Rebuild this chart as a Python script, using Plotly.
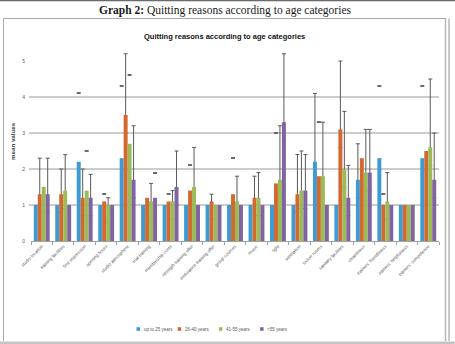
import plotly.graph_objects as go

# ---------------- data ----------------
categories = [
    "studio location", "training facilities", "first impression", "opening hours",
    "studio atmosphere", "trial training", "membership costs", "strength training offer",
    "endurance training offer", "group courses", "music", "light", "ventilation",
    "locker rooms", "sanitary facilities", "cleanliness", "trainers' friendliness",
    "trainers' helpfulness", "trainers' competence",
]
series_names = ["up to 25 years", "26-40 years", "41-55 years", ">55 years"]

up_to_25 = [1.0, 1.0, 2.2, 1.0, 2.3, 1.0, 1.0, 1.0, 1.0, 1.0, 1.0, 1.0, 1.0, 2.2, 1.0, 1.7, 2.3, 1.0, 2.3]
age_26_40 = [1.3, 1.3, 1.2, 1.1, 3.5, 1.2, 1.1, 1.4, 1.1, 1.3, 1.2, 1.6, 1.3, 1.8, 3.1, 2.3, 1.0, 1.0, 2.5]
age_41_55 = [1.5, 1.4, 1.4, 1.0, 2.7, 1.1, 1.1, 1.5, 1.0, 1.1, 1.2, 1.7, 1.4, 1.8, 2.0, 1.9, 1.1, 1.0, 2.6]
over_55 = [1.3, 1.0, 1.2, 1.0, 1.7, 1.2, 1.5, 1.0, 1.0, 1.0, 1.0, 3.3, 1.4, 1.0, 1.2, 1.9, 1.0, 1.0, 1.7]

# upper end of error whiskers (None = no whisker)
err_top_up_to_25 = [None, None, None, None, None, None, None, None, None, None, None, None, None, 4.1, None, 2.7, None, None, None]
err_top_26_40 = [2.3, 2.0, 2.0, None, 5.2, None, None, None, 1.3, None, 1.8, None, 2.4, None, 5.0, None, None, None, None]
err_top_41_55 = [None, 2.4, None, 1.2, None, 1.6, 1.4, 2.6, None, 1.8, 1.9, 3.2, 2.5, 3.3, 3.6, 3.1, 1.9, None, 4.5]
err_top_over_55 = [2.3, None, 1.85, None, 3.2, None, 2.5, None, None, None, None, 5.2, 2.4, None, 2.1, 3.1, None, None, 3.0]

# isolated cap marks without visible whisker line
cap_up_to_25 = [None, None, 4.1, None, 4.3, None, None, None, None, None, None, None, None, None, None, None, 4.3, None, 4.3]
cap_26_40 = [None, None, None, 1.3, None, None, 1.3, 2.1, None, 2.3, None, 3.0, None, 3.3, None, None, 1.3, None, None]
cap_41_55 = [None, None, 2.5, None, 4.6, None, None, None, None, None, None, None, None, None, None, None, None, None, None]
cap_over_55 = [None, None, None, None, None, 1.9, None, None, None, None, None, None, None, None, None, None, None, None, None]

y_tick_values = [0, 1, 2, 3, 4, 5]
grid_values = [1, 2, 3, 4]

# ---------------- style ----------------
colors = ["#3D9AD3", "#D3692F", "#9BBB59", "#8064A2"]
values = [up_to_25, age_26_40, age_41_55, over_55]
err_tops = [err_top_up_to_25, err_top_26_40, err_top_41_55, err_top_over_55]
caps = [cap_up_to_25, cap_26_40, cap_41_55, cap_over_55]

W, H = 455, 344
L, R, T, B = 31, 16, 52, 103
PW = W - L - R
PH = H - T - B
Y_BOTTOM = H - B


def fx(p):
    return (p - L) / PW


def fy(p):
    return (Y_BOTTOM - p) / PH


fig = go.Figure()

# error whiskers first (drawn underneath opaque bars, so only the part above bar top shows)
for i in range(4):
    idx = [j for j, v in enumerate(err_tops[i]) if v is not None]
    if not idx:
        continue
    fig.add_trace(go.Bar(
        x=[categories[j] for j in idx],
        y=[values[i][j] for j in idx],
        offsetgroup=str(i),
        marker=dict(color="rgba(0,0,0,0)", line=dict(width=0)),
        error_y=dict(type="data", symmetric=False,
                     array=[err_tops[i][j] - values[i][j] for j in idx],
                     arrayminus=[0.5 for j in idx],
                     color="#595959", thickness=1, width=2),
        hoverinfo="skip", showlegend=False,
    ))

for i in range(4):
    fig.add_trace(go.Bar(
        x=categories, y=values[i], name=series_names[i], offsetgroup=str(i),
        marker=dict(color=colors[i], line=dict(width=0)),
        showlegend=False,
    ))

for i in range(4):
    idx = [j for j, v in enumerate(caps[i]) if v is not None]
    if not idx:
        continue
    fig.add_trace(go.Bar(
        x=[categories[j] for j in idx],
        y=[0.026 for j in idx],
        base=[caps[i][j] - 0.013 for j in idx],
        offsetgroup=str(i),
        marker=dict(color="#6a6a6a", line=dict(width=0)),
        hoverinfo="skip", showlegend=False,
    ))

shapes = []
for g in grid_values:
    shapes.append(dict(type="line", xref="paper", yref="y", x0=-0.005, x1=1, y0=g, y1=g,
                       line=dict(color="#9a9a9a", width=1), layer="below"))

border = "#a8a8a8"
# page edge at top
shapes.append(dict(type="line", xref="paper", yref="paper", x0=fx(0), x1=fx(W), y0=fy(0.6), y1=fy(0.6),
                   line=dict(color="#6a6a6a", width=1.5)))
# chart frame
shapes.append(dict(type="line", xref="paper", yref="paper", x0=fx(3.5), x1=fx(446), y0=fy(18.5), y1=fy(18.5),
                   line=dict(color=border, width=1)))
shapes.append(dict(type="line", xref="paper", yref="paper", x0=fx(3.5), x1=fx(3.5), y0=fy(18.5), y1=fy(341),
                   line=dict(color=border, width=1)))
shapes.append(dict(type="line", xref="paper", yref="paper", x0=fx(445.5), x1=fx(445.5), y0=fy(18.5), y1=fy(341),
                   line=dict(color="#b8b8b8", width=1.5)))
shapes.append(dict(type="line", xref="paper", yref="paper", x0=fx(449), x1=fx(449), y0=fy(18.5), y1=fy(341),
                   line=dict(color="#b8b8b8", width=1.5)))
shapes.append(dict(type="rect", xref="paper", yref="paper", x0=fx(0), x1=fx(W), y0=fy(341.5), y1=fy(H),
                   fillcolor="#c4c4c4", line=dict(width=0)))

annotations = [
    dict(text="<b>Graph 2:</b> Quitting reasons according to age categories",
         xref="paper", yref="paper", x=fx(225), y=fy(11), showarrow=False,
         font=dict(family="Liberation Serif", size=11.5, color="#1a1a1a"),
         xanchor="center", yanchor="middle"),
    dict(text="<b>Quitting reasons according to age categories</b>",
         xref="paper", yref="paper", x=fx(224), y=fy(36.5), showarrow=False,
         font=dict(family="Liberation Sans", size=7.5, color="#111111"),
         xanchor="center", yanchor="middle"),
    dict(text="<b>mean values</b>", textangle=-90,
         xref="paper", yref="paper", x=fx(12), y=fy(141), showarrow=False,
         font=dict(family="Liberation Sans", size=6.2, color="#404040"),
         xanchor="center", yanchor="middle"),
]

# legend (manual, compact like the original)
leg_x0, leg_step, leg_y = 136.5, 41.2, 329
for i, name in enumerate(series_names):
    x0 = leg_x0 + i * leg_step
    shapes.append(dict(type="rect", xref="paper", yref="paper", x0=fx(x0), x1=fx(x0 + 3.5),
                       y0=fy(leg_y - 1.8), y1=fy(leg_y + 1.8), fillcolor=colors[i], line=dict(width=0)))
    annotations.append(dict(text=name, xref="paper", yref="paper", x=fx(x0 + 5), y=fy(leg_y),
                            showarrow=False, xanchor="left", yanchor="middle",
                            font=dict(family="Liberation Sans", size=4.5, color="#595959")))

fig.update_layout(
    width=W, height=H,
    margin=dict(l=L, r=R, t=T, b=B, pad=0),
    paper_bgcolor="white", plot_bgcolor="white",
    barmode="group", bargap=0.26, bargroupgap=0,
    showlegend=False,
    font=dict(family="Liberation Sans", color="#595959"),
    shapes=shapes, annotations=annotations,
    xaxis=dict(
        type="category", categoryorder="array", categoryarray=categories,
        showline=True, linecolor="#a0a0a0", linewidth=1,
        ticks="outside", tickson="boundaries", ticklen=3, tickcolor="#a0a0a0",
        tickangle=-45, tickfont=dict(size=4.5, color="#595959"),
        showgrid=False, zeroline=False, fixedrange=True,
    ),
    yaxis=dict(
        range=[0, 5.25], tickmode="array", tickvals=y_tick_values,
        ticktext=[str(v) for v in y_tick_values],
        showgrid=False, zeroline=False, showline=False,
        ticks="outside", ticklen=4, tickcolor="rgba(0,0,0,0)",
        tickfont=dict(size=5, color="#595959"), fixedrange=True,
    ),
)

fig.write_html("out.html", config={"displayModeBar": False})
